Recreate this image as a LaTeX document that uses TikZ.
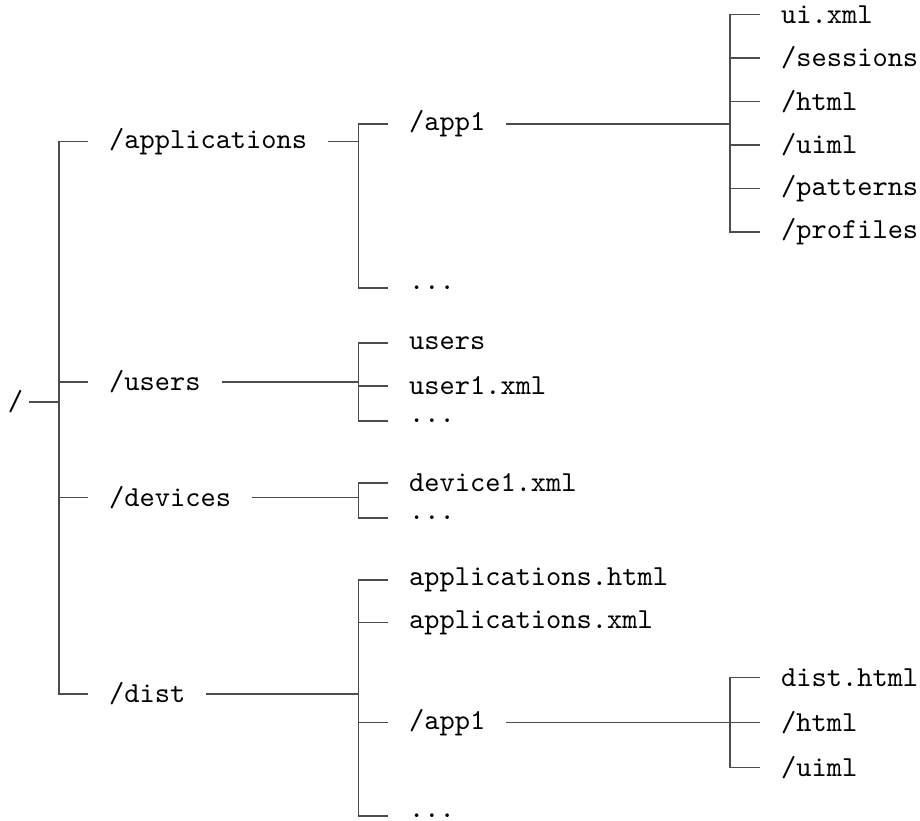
\documentclass[tikz,border=0pt]{standalone}
\begin{document}
\begin{tikzpicture}[x=0.3448pt,y=-0.3448pt,
  item/.style={font=\ttfamily, inner xsep=7.3pt, inner ysep=0pt, outer sep=0pt, anchor=west},
  link/.style={draw=black!70, line width=0.4pt}]
\useasboundingbox (0,0) rectangle (920,820);
% root
\node[item, anchor=east, inner xsep=2pt] (root) at (29,402) {/};
% level 1
\node[item] (apps) at (88,141.7) {/applications};
\node[item] (users) at (88,382) {/users};
\node[item] (devices) at (88,497.7) {/devices};
\node[item] (dist) at (88,694) {/dist};
% level 2
\node[item] (a1) at (388,124) {/app1};
\node[item] (adots) at (388,288) {...};
\node[item] (u1) at (388,343) {users};
\node[item] (u2) at (388,386) {user1.xml};
\node[item] (u3) at (388,421) {...};
\node[item] (d1) at (388,483) {device1.xml};
\node[item] (d2) at (388,518) {...};
\node[item] (s1) at (388,580) {applications.html};
\node[item] (s2) at (388,622.7) {applications.xml};
\node[item] (s3) at (388,722.7) {/app1};
\node[item] (s4) at (388,816) {...};
% level 3
\node[item] (l1) at (760,14.5) {ui.xml};
\node[item] (l2) at (760,58) {/sessions};
\node[item] (l3) at (760,101.5) {/html};
\node[item] (l4) at (760,145) {/uiml};
\node[item] (l5) at (760,188.5) {/patterns};
\node[item] (l6) at (760,232) {/profiles};
\node[item] (m1) at (760,677.7) {dist.html};
\node[item] (m2) at (760,722.7) {/html};
\node[item] (m3) at (760,767.3) {/uiml};
% junctions
\coordinate (jR) at (59,402);
\coordinate (jA) at (358.5,141.7);
\coordinate (jU) at (358.5,382);
\coordinate (jD) at (358.5,497.7);
\coordinate (jS) at (358.5,694);
\coordinate (jA1) at (730,124);
\coordinate (jS3) at (730,722.7);
% connectors
\draw[link] (root.east) -- (jR);
\foreach \c in {apps,users,devices,dist} \draw[link] (jR) |- (\c.west);
\draw[link] (apps.east) -- (jA);
\foreach \c in {a1,adots} \draw[link] (jA) |- (\c.west);
\draw[link] (users.east) -- (jU);
\foreach \c in {u1,u2,u3} \draw[link] (jU) |- (\c.west);
\draw[link] (devices.east) -- (jD);
\foreach \c in {d1,d2} \draw[link] (jD) |- (\c.west);
\draw[link] (dist.east) -- (jS);
\foreach \c in {s1,s2,s3,s4} \draw[link] (jS) |- (\c.west);
\draw[link] (a1.east) -- (jA1);
\foreach \c in {l1,l2,l3,l4,l5,l6} \draw[link] (jA1) |- (\c.west);
\draw[link] (s3.east) -- (jS3);
\foreach \c in {m1,m2,m3} \draw[link] (jS3) |- (\c.west);
\end{tikzpicture}
\end{document}
